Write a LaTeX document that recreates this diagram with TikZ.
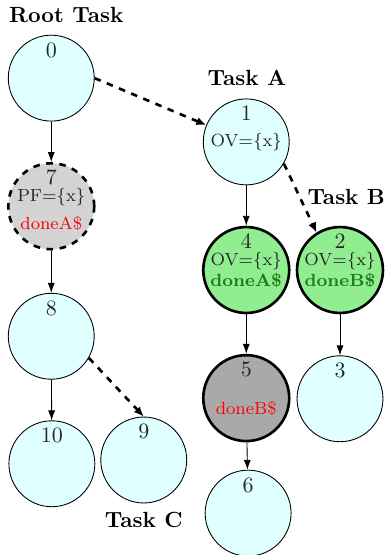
\documentclass[tikz,border=0pt]{standalone}
\usepackage{tikz}
\usetikzlibrary{positioning,arrows.meta}

\definecolor{cellcyan}{HTML}{E0FFFF}
\definecolor{cellgreen}{HTML}{90EE90}
\definecolor{cellgray}{HTML}{D3D3D3}
\definecolor{celldark}{HTML}{A9A9A9}
\definecolor{okgreen}{HTML}{1E7B1E}

\begin{document}
\begin{tikzpicture}[vertex/.style={circle,draw,minimum size=13.75mm,inner sep=0pt,fill=cellcyan,text=black!85,font=\footnotesize,align=center},
  joined/.style={vertex,fill=cellgreen,very thick},
  pending/.style={vertex,fill=cellgray,very thick,dashed},
  blocked/.style={vertex,fill=celldark,very thick},
  nr/.style={label={[anchor=north,text=black!85]north:#1}},
  spawn/.style={-{Latex[length=4.5pt,width=3.8pt]},very thick,dashed},
  seq/.style={-{Latex[length=4.5pt,width=3.2pt]}},
  tasklabel/.style={font=\bfseries}]

\useasboundingbox (0,0) rectangle (6.19,-8.88);

% Root task
\node (n0) at (0.82,-1.25) [vertex,nr=0] {};
\node (n7) at (0.82,-3.30) [pending,nr=7] {\rule{0pt}{9pt}PF=\{x\}\\[3pt]\textcolor{red}{doneA\$}};
\node (n8) at (0.82,-5.38) [vertex,nr=8] {};
\node (n10) at (0.83,-7.42) [vertex,nr=10] {};
\draw[seq] (n0) -- (n7);
\draw[seq] (n7) -- (n8);
\draw[seq] (n8) -- (n10);

% Task A
\node (n1) at (3.94,-2.27) [vertex,nr=1] {OV=\{x\}};
\node (n4) at (3.94,-4.32) [joined,nr=4] {OV=\{x\}\\\textcolor{okgreen}{\bfseries doneA\$}};
\node (n5) at (3.94,-6.37) [blocked,nr=5] {\vphantom{O}\\\textcolor{red}{doneB\$}};
\node (n6) at (3.97,-8.21) [vertex,nr=6] {};
\draw[seq] (n1) -- (n4);
\draw[seq] (n4) -- (n5);
\draw[seq] (n5) -- (n6);

% Task B
\node (n2) at (5.44,-4.32) [joined,nr=2] {OV=\{x\}\\\textcolor{okgreen}{\bfseries doneB\$}};
\node (n3) at (5.44,-6.38) [vertex,nr=3] {};
\draw[seq] (n2) -- (n3);

% Task C
\node (n9) at (2.30,-7.36) [vertex,nr=9] {};

% Spawns
\draw[spawn] (n0.east) -- (n1);
\draw[spawn] (n1.-30) -- (n2.122);
\draw[spawn] (n8.-30) -- (n9.north);

% Labels
\node[tasklabel] (roottask) at (1.06,-0.24) {Root Task};
\node[tasklabel] (taska) at (3.95,-1.25) {Task A};
\node[tasklabel] (taskb) at (5.54,-3.15) {Task B};
\node[tasklabel] (taskc) at (2.30,-8.32) {Task C};

\end{tikzpicture}
\end{document}
